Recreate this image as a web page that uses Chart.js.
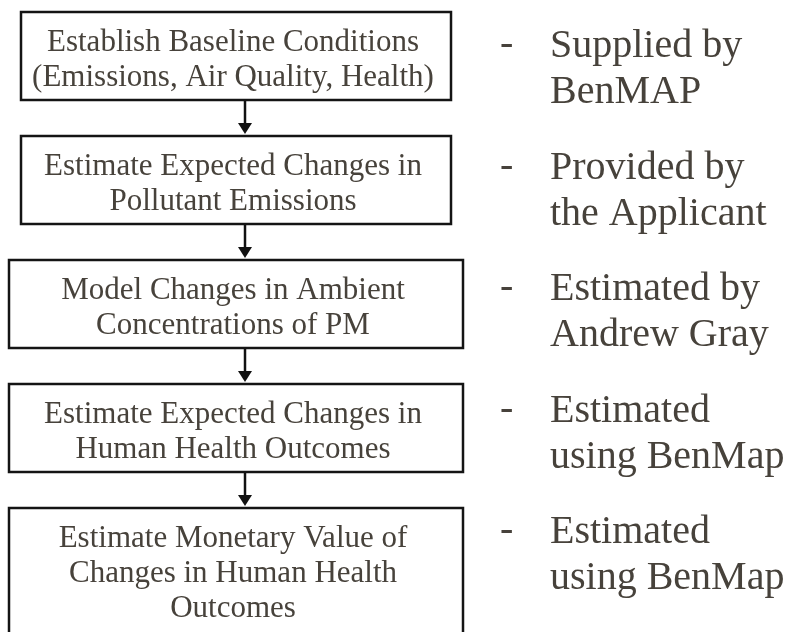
<!DOCTYPE html>
<html>
<head>
<meta charset="utf-8">
<title>BenMAP workflow</title>
<script src="https://cdn.jsdelivr.net/npm/chart.js@4"></script>
<style>
  html, body { margin: 0; padding: 0; background: #ffffff; }
  #flow { display: block; }
</style>
</head>
<body>
<canvas id="flow" width="791" height="632"></canvas>
<script>
'use strict';

// ******* DATA ********
let steps = [
  ['Establish Baseline Conditions', '(Emissions, Air Quality, Health)'],
  ['Estimate Expected Changes in', 'Pollutant Emissions'],
  ['Model Changes in Ambient', 'Concentrations of PM'],
  ['Estimate Expected Changes in', 'Human Health Outcomes'],
  ['Estimate Monetary Value of', 'Changes in Human Health', 'Outcomes']
];

let notes = [
  ['Supplied by', 'BenMAP'],
  ['Provided by', 'the Applicant'],
  ['Estimated by', 'Andrew Gray'],
  ['Estimated', 'using BenMap'],
  ['Estimated', 'using BenMap']
];

// ******* LAYOUT (scale units) ********
let textColor = '#47423b';
let serif = '"Liberation Serif", "Times New Roman", serif';
let boxLeft = 9;
let boxRight = 463;
let narrowInset = 12;   // first two boxes are a bit narrower
let boxHeight = 88;     // two-line box
let boxLineH = 35;
let textTop = 39;       // first baseline below box top
let boxGap = 36;
let firstTop = 12;
let arrowX = 245;
let noteDashX = 500;
let noteTextX = 550;
let noteLineH = 46;
let noteFirst = 57;
let noteStep = 121.5;

// ******* PLUGIN THAT DRAWS THE FLOW ********
let flowPlugin = {
  id: 'flow',
  afterDraw(chart) {
    let ctx = chart.ctx;
    let sx = chart.scales.x;
    let sy = chart.scales.y;
    let px = v => sx.getPixelForValue(v);
    let py = v => sy.getPixelForValue(v);

    ctx.save();
    let top = firstTop;
    let boxes = [];
    for (let i = 0; i < steps.length; i++) {
      let h = boxHeight;
      // the last box runs off the bottom edge
      if (i === steps.length - 1) { h = 700 - top; }
      let inset = i < 2 ? narrowInset : 0;
      boxes.push({ left: boxLeft + inset, right: boxRight - inset, top: top, bottom: top + h });
      top += h + boxGap;
    }

    // boxes and their text
    for (let i = 0; i < boxes.length; i++) {
      let b = boxes[i];
      ctx.fillStyle = '#ffffff';
      ctx.fillRect(px(b.left), py(b.top), px(b.right) - px(b.left), py(b.bottom) - py(b.top));
      ctx.strokeStyle = '#141414';
      ctx.lineWidth = 2.5;
      ctx.strokeRect(px(b.left), py(b.top), px(b.right) - px(b.left), py(b.bottom) - py(b.top));

      ctx.fillStyle = textColor;
      ctx.font = '31px ' + serif;
      ctx.textAlign = 'center';
      ctx.textBaseline = 'alphabetic';
      let lines = steps[i];
      let cx = (b.left + b.right) / 2 - 3;
      for (let j = 0; j < lines.length; j++) {
        ctx.fillText(lines[j], px(cx), py(b.top + textTop + j * boxLineH));
      }
    }

    // arrows between boxes
    ctx.strokeStyle = '#111111';
    ctx.fillStyle = '#111111';
    ctx.lineWidth = 2.5;
    for (let i = 0; i < boxes.length - 1; i++) {
      let y0 = boxes[i].bottom + 1;
      let y1 = boxes[i + 1].top - 2;
      ctx.beginPath();
      ctx.moveTo(px(arrowX), py(y0));
      ctx.lineTo(px(arrowX), py(y1 - 9));
      ctx.stroke();
      ctx.beginPath();
      ctx.moveTo(px(arrowX - 7), py(y1 - 11));
      ctx.lineTo(px(arrowX + 7), py(y1 - 11));
      ctx.lineTo(px(arrowX), py(y1));
      ctx.closePath();
      ctx.fill();
    }

    // notes on the right
    ctx.fillStyle = textColor;
    ctx.font = '40px ' + serif;
    ctx.textAlign = 'left';
    for (let i = 0; i < notes.length; i++) {
      let base = noteFirst + i * noteStep;
      ctx.fillText('-', px(noteDashX), py(base - 2));
      for (let j = 0; j < notes[i].length; j++) {
        ctx.fillText(notes[i][j], px(noteTextX), py(base + j * noteLineH));
      }
    }
    ctx.restore();
  }
};

// ******* CHART ********
let canvas = document.getElementById('flow');
new Chart(canvas, { //eslint-disable-line
  type: 'scatter',
  data: { datasets: [{ data: [], pointRadius: 0 }] },
  options: {
    responsive: false,
    animation: false,
    events: [],
    layout: { padding: 0 },
    plugins: { legend: { display: false }, tooltip: { enabled: false } },
    scales: {
      x: { type: 'linear', min: 0, max: 791, display: false },
      y: { type: 'linear', min: 0, max: 632, reverse: true, display: false }
    }
  },
  plugins: [flowPlugin]
});
</script>
</body>
</html>
